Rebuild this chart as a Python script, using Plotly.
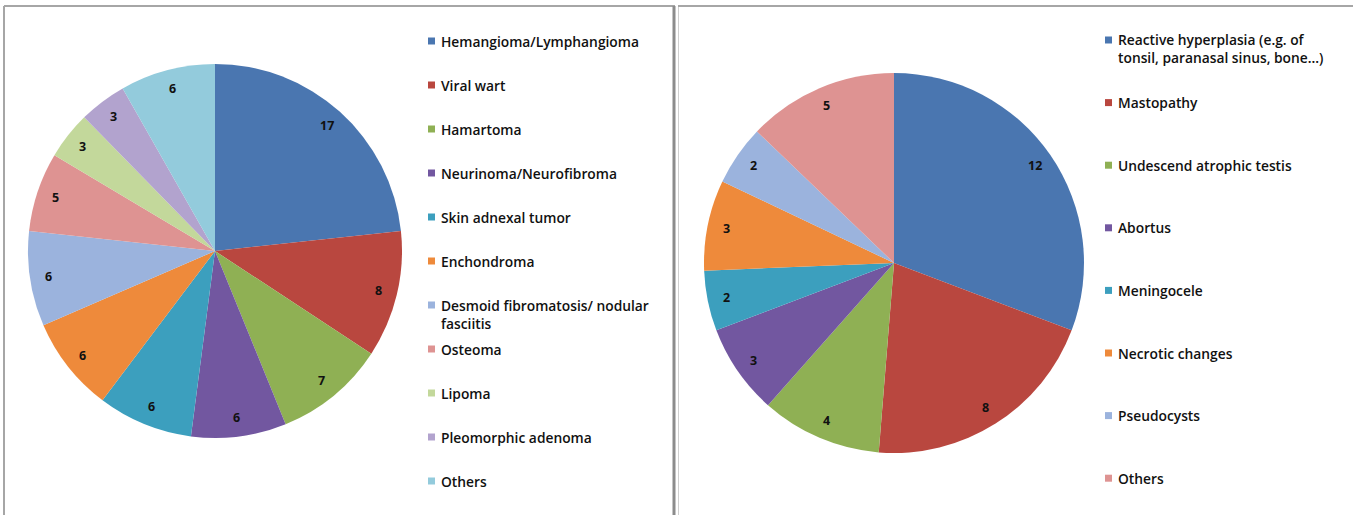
import numpy as np
import plotly.graph_objects as go

W, H = 1353, 515

# ---- data ----
left_labels = ["Hemangioma/Lymphangioma", "Viral wart", "Hamartoma", "Neurinoma/Neurofibroma",
               "Skin adnexal tumor", "Enchondroma", "Desmoid fibromatosis/ nodular<br>fasciitis",
               "Osteoma", "Lipoma", "Pleomorphic adenoma", "Others"]
left_values = [17, 8, 7, 6, 6, 6, 6, 5, 3, 3, 6]
left_colors = ["#4A76B0", "#B9473F", "#8FB054", "#7257A0", "#3C9FBE", "#EE8A3B",
               "#9BB3DD", "#DE9392", "#C3D89B", "#B2A3CE", "#93CBDC"]

right_labels = ["Reactive hyperplasia (e.g. of<br>tonsil, paranasal sinus, bone...)", "Mastopathy",
                "Undescend atrophic testis", "Abortus", "Meningocele", "Necrotic changes",
                "Pseudocysts", "Others"]
right_values = [12, 8, 4, 3, 2, 3, 2, 5]
right_colors = ["#4A76B0", "#B9473F", "#8FB054", "#7257A0", "#3C9FBE", "#EE8A3B",
                "#9BB3DD", "#DE9392"]

FONT = "Open Sans"


def fx(px):
    return px / W


def fy(py):
    return 1 - py / H


fig = go.Figure()

pies = [
    dict(labels=left_labels, values=left_values, colors=left_colors, cx=215, cy=251, r=187,
         leg_x=428, leg_y0=41, leg_step=44),
    dict(labels=right_labels, values=right_values, colors=right_colors, cx=894, cy=263, r=190,
         leg_x=1105, leg_y0=40, leg_step=62.6),
]

annotations = []
shapes = []

for p in pies:
    cx, cy, r = p["cx"], p["cy"], p["r"]
    fig.add_trace(go.Pie(
        labels=p["labels"], values=p["values"], sort=False, direction="clockwise", rotation=0,
        marker=dict(colors=p["colors"], line=dict(width=0)),
        textinfo="none", hoverinfo="label+value", showlegend=False,
        domain=dict(x=[fx(cx - r), fx(cx + r)], y=[fy(cy + r), fy(cy - r)]),
    ))
    vals = np.array(p["values"], dtype=float)
    cum = np.cumsum(vals)
    mids = (cum - vals / 2) / vals.sum() * 2 * np.pi
    for v, a in zip(p["values"], mids):
        px = cx + 0.9 * r * np.sin(a)
        py = cy - 0.9 * r * np.cos(a)
        annotations.append(dict(x=fx(px), y=fy(py), xref="paper", yref="paper", text=str(v),
                                showarrow=False, xanchor="center", yanchor="middle",
                                font=dict(family=FONT, size=12.5, color="#111111", weight="bold")))
    # legend
    for i, (lab, col) in enumerate(zip(p["labels"], p["colors"])):
        ly = p["leg_y0"] + i * p["leg_step"]
        shapes.append(dict(type="rect", xref="paper", yref="paper",
                           x0=fx(p["leg_x"]), x1=fx(p["leg_x"] + 7),
                           y0=fy(ly + 3.5), y1=fy(ly - 3.5),
                           fillcolor=col, line=dict(width=0)))
        annotations.append(dict(x=fx(p["leg_x"] + 11), y=fy(ly - 11.5), xref="paper", yref="paper",
                                text=lab, showarrow=False, xanchor="left", yanchor="top", align="left",
                                font=dict(family=FONT, size=13.8, color="#111111", weight=600)))

# panel frames
gray = "#A6A6A6"
shapes += [
    dict(type="line", xref="paper", yref="paper", x0=fx(4), x1=fx(4), y0=0, y1=fy(6),
         line=dict(color=gray, width=2)),
    dict(type="line", xref="paper", yref="paper", x0=fx(4), x1=fx(675), y0=fy(6), y1=fy(6),
         line=dict(color=gray, width=2)),
    dict(type="line", xref="paper", yref="paper", x0=fx(674), x1=fx(674), y0=0, y1=fy(6),
         line=dict(color="#8C8C8C", width=3)),
    dict(type="line", xref="paper", yref="paper", x0=fx(678.5), x1=fx(678.5), y0=0, y1=fy(6),
         line=dict(color="#D0D0D0", width=1)),
    dict(type="line", xref="paper", yref="paper", x0=fx(678), x1=1, y0=fy(6), y1=fy(6),
         line=dict(color=gray, width=2)),
]

fig.update_layout(
    width=W, height=H, margin=dict(l=0, r=0, t=0, b=0),
    paper_bgcolor="white", plot_bgcolor="white",
    annotations=annotations, shapes=shapes,
)

fig.write_html("out.html")
